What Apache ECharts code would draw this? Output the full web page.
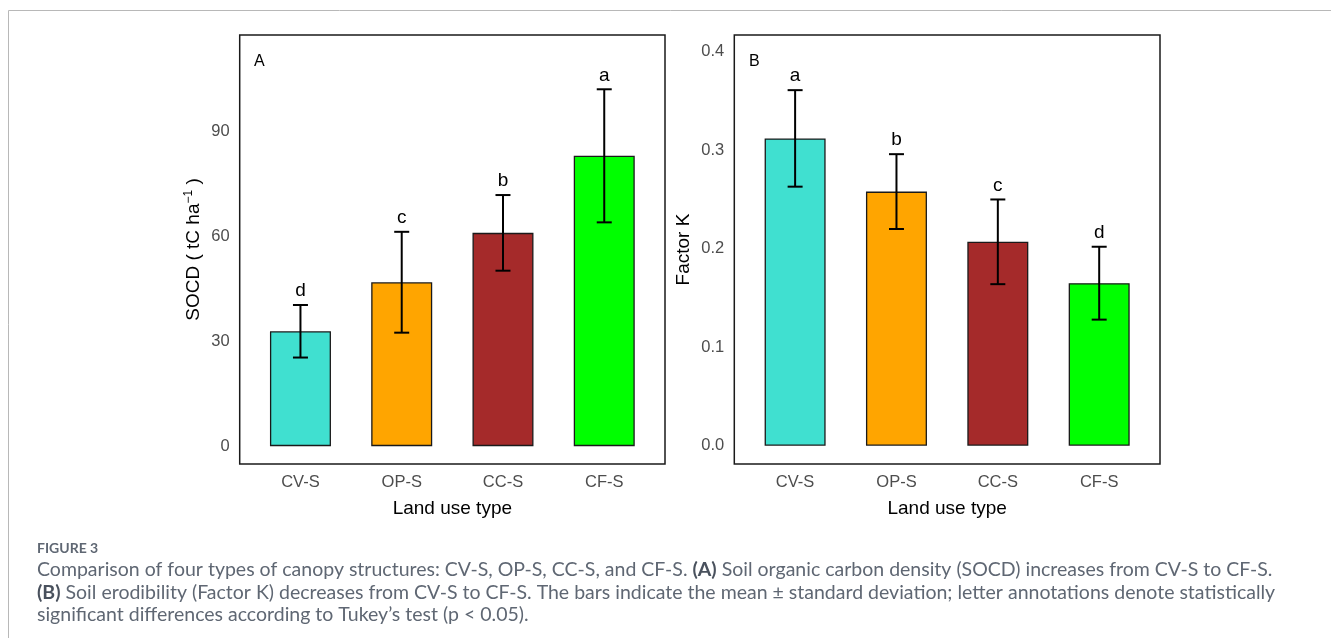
<!DOCTYPE html>
<html><head><meta charset="utf-8">
<script src="https://cdn.jsdelivr.net/npm/echarts@6/dist/echarts.min.js"></script>
<style>html,body{margin:0;padding:0;background:#fff}#c{width:1331px;height:638px}</style>
</head><body><div id="c"></div>
<script>
const categories = ['CV-S', 'OP-S', 'CC-S', 'CF-S'];
const positions = [1, 2, 3, 4];
const socdMean = [32.8, 46.8, 60.9, 82.9];
const socdSd = [7.5, 14.4, 10.8, 19.0];
const socdLetters = ['d', 'c', 'b', 'a'];
const kMean = [0.312, 0.258, 0.207, 0.165];
const kSd = [0.049, 0.038, 0.043, 0.037];
const kLetters = ['a', 'b', 'c', 'd'];
const socdTicks = [0, 30, 60, 90];
const kTicks = [0, 0.1, 0.2, 0.3, 0.4];
const barColors = ['#40E0D0', '#FFA500', '#A52A2A', '#00FF00'];

const FONT = '"Liberation Sans", Arial, sans-serif';
const CAP_FONT = 'Lato, "Open Sans", sans-serif';

const chart = echarts.init(document.getElementById('c'));

function xAx(gi) {
  return {
    type: 'value', gridIndex: gi, min: 0.4, max: 4.6,
    axisLine: { show: false }, axisTick: { show: false }, splitLine: { show: false },
    axisLabel: {
      customValues: positions,
      formatter: v => categories[Math.round(v) - 1] || '',
      color: '#4d4d4d', fontSize: 16.5, fontFamily: FONT, margin: 10
    },
    name: 'Land use type', nameLocation: 'middle', nameGap: 35,
    nameTextStyle: { color: '#000', fontSize: 19, fontFamily: FONT }
  };
}
function yAx(gi, min, max, ticks, fmt, name, gap) {
  return {
    type: 'value', gridIndex: gi, min: min, max: max,
    axisLine: { show: false }, axisTick: { show: false }, splitLine: { show: false },
    axisLabel: {
      customValues: ticks, formatter: fmt,
      color: '#4d4d4d', fontSize: 16.5, fontFamily: FONT, margin: 10
    },
    name: name, nameLocation: 'middle', nameRotate: 90, nameGap: gap,
    nameTextStyle: {
      color: '#000', fontSize: 19, fontFamily: FONT,
      rich: { sup: { fontSize: 12, fontFamily: FONT, color: '#000', verticalAlign: 'top', padding: [0, 0, 10, 0] } }
    }
  };
}
function barSeries(gi, means) {
  return {
    type: 'bar', xAxisIndex: gi, yAxisIndex: gi, barWidth: 61,
    data: positions.map((p, i) => ({ value: [p, means[i]], itemStyle: { color: barColors[i] } })),
    itemStyle: { borderColor: '#1a1a1a', borderWidth: 1.3 },
    emphasis: { disabled: true }, silent: true
  };
}
function errSeries(gi, means, sds, letters) {
  return {
    type: 'custom', xAxisIndex: gi, yAxisIndex: gi, z: 5, silent: true,
    data: positions.map((p, i) => [p, means[i], sds[i]]),
    renderItem: function (params, api) {
      const x = api.value(0), m = api.value(1), s = api.value(2);
      const t = api.coord([x, m + s]), b = api.coord([x, m - s]);
      const hw = 7.5;
      const st = { stroke: '#000', lineWidth: 2 };
      return {
        type: 'group', children: [
          { type: 'line', shape: { x1: t[0], y1: t[1], x2: b[0], y2: b[1] }, style: st },
          { type: 'line', shape: { x1: t[0] - hw, y1: t[1], x2: t[0] + hw, y2: t[1] }, style: st },
          { type: 'line', shape: { x1: b[0] - hw, y1: b[1], x2: b[0] + hw, y2: b[1] }, style: st },
          { type: 'text', x: t[0], y: t[1] - 14, style: { text: letters[params.dataIndex], fill: '#000', font: '19px ' + FONT, align: 'center', verticalAlign: 'middle' } }
        ]
      };
    }
  };
}

// caption text and fit
const mctx = document.createElement('canvas').getContext('2d');
const line1a = 'Comparison of four types of canopy structures: CV-S, OP-S, CC-S, and CF-S. ';
const line1b = '(A)';
const line1c = ' Soil organic carbon density (SOCD) increases from CV-S to CF-S.';
const line2b = '(B)';
const line2c = ' Soil erodibility (Factor K) decreases from CV-S to CF-S. The bars indicate the mean ± standard deviation; letter annotations denote statistically';
const line3 = 'significant differences according to Tukey’s test (p < 0.05).';
function mw(sz, txt, bold) {
  mctx.font = (bold ? 'bold ' : '') + sz + 'px ' + CAP_FONT;
  return mctx.measureText(txt).width;
}
const refW = [1245, 1233, 468];
const m17 = [
  mw(17, line1a + line1c) + mw(17, line1b, true),
  mw(17, line2c) + mw(17, line2b, true),
  mw(17, line3)
];
let num = 0, den = 0;
for (let i = 0; i < 3; i++) { num += refW[i] * m17[i]; den += m17[i] * m17[i]; }
const capSize = Math.round(17 * num / den * 10) / 10;
const capColor = '#5f6773';
const capRich = { b: { fontWeight: 'bold', fontSize: capSize, fontFamily: CAP_FONT, fill: '#49515d' } };
function capText(y, txt) {
  return { type: 'text', x: 37, y: y, silent: true, style: { text: txt, fill: capColor, fontSize: capSize, fontFamily: CAP_FONT, verticalAlign: 'middle', rich: capRich } };
}

chart.setOption({
  animation: false,
  grid: [
    { left: 239.7, top: 35, width: 425.3, height: 429, show: true, borderColor: '#1a1a1a', borderWidth: 1.5, containLabel: false },
    { left: 734.3, top: 35, width: 425.7, height: 429, show: true, borderColor: '#1a1a1a', borderWidth: 1.5, containLabel: false }
  ],
  xAxis: [xAx(0), xAx(1)],
  yAxis: [
    yAx(0, -5.1, 117.4, socdTicks, v => String(v), 'SOCD ( tC ha{sup|−1} )', 35),
    yAx(1, -0.0186, 0.417, kTicks, v => v.toFixed(1), 'Factor K', 41)
  ],
  series: [
    barSeries(0, socdMean), errSeries(0, socdMean, socdSd, socdLetters),
    barSeries(1, kMean), errSeries(1, kMean, kSd, kLetters)
  ],
  graphic: [
    { type: 'rect', silent: true, shape: { x: 8.5, y: 10.5, width: 1400, height: 700 }, style: { fill: 'none', stroke: '#b8b8b8', lineWidth: 1 } },
    { type: 'text', x: 254, y: 62, silent: true, style: { text: 'A', fill: '#000', font: '16px ' + FONT, verticalAlign: 'middle' } },
    { type: 'text', x: 749, y: 62, silent: true, style: { text: 'B', fill: '#000', font: '16px ' + FONT, verticalAlign: 'middle' } },
    { type: 'text', x: 37, y: 548, silent: true, style: { text: 'FIGURE 3', fill: capColor, fontSize: 14, fontWeight: 'bold', fontFamily: CAP_FONT, verticalAlign: 'middle' } },
    capText(570, line1a + '{b|' + line1b + '}' + line1c),
    capText(592.5, '{b|' + line2b + '}' + line2c),
    capText(615, line3)
  ]
});
</script>
</body></html>
